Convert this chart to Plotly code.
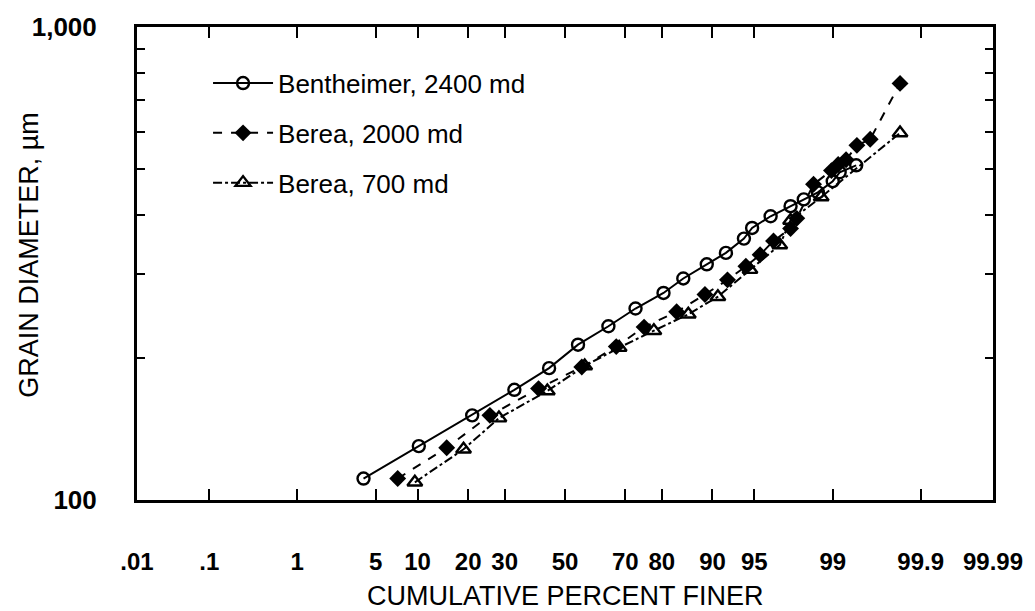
import plotly.graph_objects as go
from statistics import NormalDist

nd = NormalDist()

def probit(p):
    return nd.inv_cdf(p / 100.0)

# ---- data (cumulative percent finer, grain diameter in micrometres) ----
bent_pct = [4.0, 10.2, 21.0, 33.0, 44.5, 54.5, 64.7, 73.0, 80.4, 84.8, 89.1,
            91.9, 94.0, 94.8, 96.3, 97.5, 98.1, 98.6, 99.0, 99.15, 99.43]
bent_d = [111, 130, 151, 171, 190, 213, 233, 254, 274, 294, 315,
          333, 357, 376, 398, 418, 432, 447, 472, 493, 510]

b2000_pct = [7.3, 15.2, 25.7, 40.9, 55.8, 67.2, 75.4, 83.4, 88.8, 92.1, 94.2,
             95.5, 96.5, 97.5, 97.8, 98.46, 98.97, 99.12, 99.27, 99.44, 99.60, 99.82]
b2000_d = [111, 129, 151, 172, 191, 211, 232, 250, 272, 292, 312,
           330, 353, 375, 394, 465, 497, 512, 524, 562, 579, 760]

b700_pct = [9.6, 18.9, 28.3, 43.9, 56.8, 68.1, 78.0, 85.8, 90.8, 94.6, 96.9,
            97.5, 98.7, 99.82]
b700_d = [109, 128, 149, 170, 192, 210, 228, 247, 269, 307, 346,
          390, 437, 597]

x_tick_pct = [0.01, 0.1, 1, 5, 10, 20, 30, 50, 70, 80, 90, 95, 99, 99.9, 99.99]
x_tick_text = [".01", ".1", "1", "5", "10", "20", "30", "50", "70", "80",
               "90", "95", "99", "99.9", "99.99"]
y_tick_vals = [100, 200, 300, 400, 500, 600, 700, 800, 900, 1000]
y_tick_text = ["100", "", "", "", "", "", "", "", "", "1,000"]

names = ["Bentheimer, 2400 md", "Berea, 2000 md", "Berea, 700 md"]

FONT = "Liberation Sans, Arial, Helvetica, sans-serif"

fig = go.Figure()
fig.add_trace(go.Scatter(
    x=[probit(p) for p in bent_pct], y=bent_d, name=names[0],
    mode="lines+markers", legendgroup="a",
    line=dict(color="black", width=2, dash="solid"),
    marker=dict(symbol="circle-open", size=12, color="black", line=dict(width=2.4)),
))
fig.add_trace(go.Scatter(
    x=[probit(p) for p in b2000_pct], y=b2000_d, name=names[1],
    mode="lines+markers", legendgroup="b",
    line=dict(color="black", width=2, dash="dash"),
    marker=dict(symbol="diamond", size=13, color="black"),
))
fig.add_trace(go.Scatter(
    x=[probit(p) for p in b700_pct], y=b700_d, name=names[2],
    mode="lines+markers", legendgroup="c",
    line=dict(color="black", width=2, dash="dashdot"),
    marker=dict(symbol="triangle-up-open", size=13, color="black", line=dict(width=2.4)),
))

zmin = probit(0.01)
zmax = probit(99.99)

fig.update_layout(
    width=1035, height=611,
    margin=dict(l=137, r=32, t=18, b=111),
    paper_bgcolor="white", plot_bgcolor="white",
    font=dict(family=FONT, color="black", size=24),
    showlegend=True,
    legend=dict(
        x=0.083, y=0.931, xanchor="left", yanchor="top",
        bgcolor="rgba(0,0,0,0)", borderwidth=0,
        font=dict(family=FONT, size=26, color="black"),
        tracegroupgap=13, itemwidth=60,
    ),
    xaxis=dict(
        range=[zmin, zmax], showgrid=False, zeroline=False,
        tickmode="array", tickvals=[probit(p) for p in x_tick_pct],
        ticktext=x_tick_text, ticks="inside", ticklen=11, tickwidth=1.8,
        tickcolor="black", showline=True, linecolor="black", linewidth=3,
        mirror="ticks", tickfont=dict(size=24, weight="bold"), ticklabelstandoff=38,
    ),
    yaxis=dict(
        type="log", range=[2, 3], showgrid=False, zeroline=False,
        tickmode="array", tickvals=y_tick_vals, ticktext=y_tick_text,
        ticks="inside", ticklen=8, tickwidth=2.2, tickcolor="black",
        showline=True, linecolor="black", linewidth=3, mirror="ticks",
        tickfont=dict(size=26, weight="bold"), ticklabelstandoff=32,
    ),
    annotations=[
        dict(text="CUMULATIVE PERCENT FINER", xref="paper", yref="paper",
             x=0.5, y=-0.204, xanchor="center", yanchor="middle",
             showarrow=False, font=dict(size=27)),
        dict(text="GRAIN DIAMETER, µm", xref="paper", yref="paper",
             x=-0.127, y=0.519, xanchor="center", yanchor="middle",
             textangle=-90, showarrow=False, font=dict(size=27)),
    ],
)

fig.write_html("out.html")
